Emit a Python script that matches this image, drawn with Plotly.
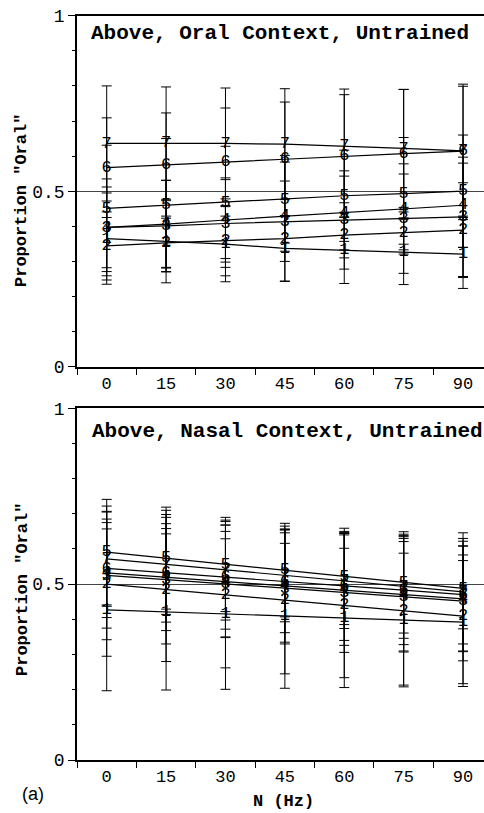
import plotly.graph_objects as go

# ---------------- data ----------------
freq_labels = ["0", "15", "30", "45", "60", "75", "90"]
series_labels = ["1", "2", "3", "4", "5", "6", "7"]

# Top panel: Above, Oral Context, Untrained (mean proportion "Oral")
oral_1 = [0.365, 0.356, 0.349, 0.337, 0.332, 0.327, 0.321]
oral_2 = [0.344, 0.353, 0.359, 0.365, 0.375, 0.381, 0.389]
oral_3 = [0.397, 0.401, 0.408, 0.413, 0.418, 0.422, 0.427]
oral_4 = [0.397, 0.406, 0.418, 0.429, 0.438, 0.449, 0.460]
oral_5 = [0.451, 0.460, 0.468, 0.477, 0.487, 0.493, 0.500]
oral_6 = [0.567, 0.576, 0.583, 0.591, 0.600, 0.607, 0.614]
oral_7 = [0.636, 0.637, 0.636, 0.634, 0.629, 0.622, 0.615]

# Top panel error bar half-lengths
oral_err_1 = [0.130, 0.117, 0.107, 0.093, 0.095, 0.093, 0.098]
oral_err_2 = [0.097, 0.070, 0.100, 0.065, 0.065, 0.060, 0.135]
oral_err_3 = [0.138, 0.130, 0.125, 0.170, 0.140, 0.156, 0.170]
oral_err_4 = [0.115, 0.125, 0.120, 0.100, 0.105, 0.100, 0.120]
oral_err_5 = [0.180, 0.190, 0.160, 0.125, 0.130, 0.160, 0.160]
oral_err_6 = [0.142, 0.147, 0.154, 0.163, 0.175, 0.183, 0.185]
oral_err_7 = [0.164, 0.160, 0.158, 0.158, 0.162, 0.168, 0.190]

# Bottom panel: Above, Nasal Context, Untrained
nasal_1 = [0.427, 0.421, 0.415, 0.410, 0.404, 0.398, 0.392]
nasal_2 = [0.500, 0.485, 0.470, 0.455, 0.440, 0.424, 0.409]
nasal_3 = [0.525, 0.513, 0.500, 0.488, 0.476, 0.464, 0.452]
nasal_4 = [0.532, 0.520, 0.508, 0.495, 0.483, 0.470, 0.458]
nasal_5 = [0.591, 0.574, 0.556, 0.540, 0.522, 0.505, 0.488]
nasal_6 = [0.545, 0.532, 0.520, 0.508, 0.495, 0.483, 0.470]
nasal_7 = [0.572, 0.556, 0.540, 0.525, 0.509, 0.494, 0.478]

nasal_err_1 = [0.230, 0.222, 0.214, 0.206, 0.198, 0.190, 0.175]
nasal_err_2 = [0.205, 0.205, 0.208, 0.210, 0.206, 0.211, 0.200]
nasal_err_3 = [0.150, 0.145, 0.150, 0.158, 0.170, 0.157, 0.170]
nasal_err_4 = [0.190, 0.190, 0.160, 0.160, 0.157, 0.160, 0.150]
nasal_err_5 = [0.150, 0.145, 0.134, 0.133, 0.137, 0.144, 0.158]
nasal_err_6 = [0.140, 0.140, 0.148, 0.146, 0.155, 0.155, 0.160]
nasal_err_7 = [0.135, 0.142, 0.142, 0.132, 0.135, 0.148, 0.105]

oral_means = [oral_1, oral_2, oral_3, oral_4, oral_5, oral_6, oral_7]
oral_errs = [oral_err_1, oral_err_2, oral_err_3, oral_err_4, oral_err_5, oral_err_6, oral_err_7]
nasal_means = [nasal_1, nasal_2, nasal_3, nasal_4, nasal_5, nasal_6, nasal_7]
nasal_errs = [nasal_err_1, nasal_err_2, nasal_err_3, nasal_err_4, nasal_err_5, nasal_err_6, nasal_err_7]

# ---------------- figure ----------------
W, H = 484, 813
MONO = "Liberation Mono, Courier New, monospace"

fig = go.Figure()


def add_panel(means, errs, xa, ya):
    for lab, m, e in zip(series_labels, means, errs):
        fig.add_trace(go.Scatter(
            x=freq_labels, y=m, xaxis=xa, yaxis=ya,
            mode="lines+text", text=[lab] * len(m),
            textposition="middle center",
            textfont=dict(family=MONO, size=17, color="black"),
            line=dict(color="black", width=1.2),
            error_y=dict(type="data", array=e, visible=True,
                         color="black", thickness=1, width=5),
            showlegend=False, hoverinfo="skip", cliponaxis=False,
        ))


add_panel(oral_means, oral_errs, "x", "y")
add_panel(nasal_means, nasal_errs, "x2", "y2")


def px_y(py):
    return 1 - py / H


def px_x(px):
    return px / W


xr = [-0.5, 6.353]
xcommon = dict(
    type="category", range=xr, tickson="boundaries",
    ticks="outside", ticklen=6, tickwidth=1, tickcolor="black",
    showline=True, linewidth=2, linecolor="black", mirror=True,
    showgrid=False, zeroline=False, automargin=False,
    tickfont=dict(family=MONO, size=17, color="black"),
    domain=[px_x(77), 1],
)
ycommon = dict(
    range=[0, 1], tickvals=[0, 0.5, 1], ticktext=["0", "0.5", "1"],
    ticks="outside", ticklen=7, tickwidth=1, tickcolor="black",
    showline=True, linewidth=1.5, linecolor="black",
    showgrid=True, gridcolor="#444", gridwidth=1, zeroline=False, automargin=False,
    tickfont=dict(family=MONO, size=18, color="black"),
    minor=dict(dtick=0.1, ticks="outside", ticklen=3, tickcolor="black", showgrid=False),
)

fig.update_layout(
    template="none",
    width=W, height=H,
    margin=dict(l=0, r=0, t=0, b=0, pad=0, autoexpand=False),
    paper_bgcolor="white", plot_bgcolor="white",
    showlegend=False,
    xaxis=dict(**xcommon, anchor="y"),
    yaxis=dict(**ycommon, anchor="x", domain=[px_y(366.7), px_y(15.7)]),
    xaxis2=dict(**xcommon, anchor="y2"),
    yaxis2=dict(**ycommon, anchor="x2", domain=[px_y(760), px_y(408.3)]),
)

ann_font_big = dict(family=MONO, size=21, color="black")
ann_font_lab = dict(family=MONO, size=17, color="black")
fig.add_annotation(text="<b>Above, Oral Context, Untrained</b>", x=px_x(89), y=px_y(34),
                   xref="paper", yref="paper", xanchor="left", yanchor="middle",
                   showarrow=False, font=ann_font_big)
fig.add_annotation(text="<b>Above, Nasal Context, Untrained</b>", x=px_x(90), y=px_y(431.7),
                   xref="paper", yref="paper", xanchor="left", yanchor="middle",
                   showarrow=False, font=ann_font_big)
for yc in (201, 590):
    fig.add_annotation(text='<b>Proportion "Oral"</b>', x=px_x(22), y=px_y(yc),
                       xref="paper", yref="paper", xanchor="center", yanchor="middle",
                       textangle=-90, showarrow=False, font=ann_font_lab)
fig.add_annotation(text="<b>N (Hz)</b>", x=px_x(283), y=px_y(801),
                   xref="paper", yref="paper", xanchor="center", yanchor="middle",
                   showarrow=False, font=ann_font_lab)
fig.add_annotation(text="(a)", x=px_x(33), y=px_y(794),
                   xref="paper", yref="paper", xanchor="center", yanchor="middle",
                   showarrow=False, font=dict(family="Liberation Sans, Arial, sans-serif", size=18, color="black"))

fig.write_html("out.html")
